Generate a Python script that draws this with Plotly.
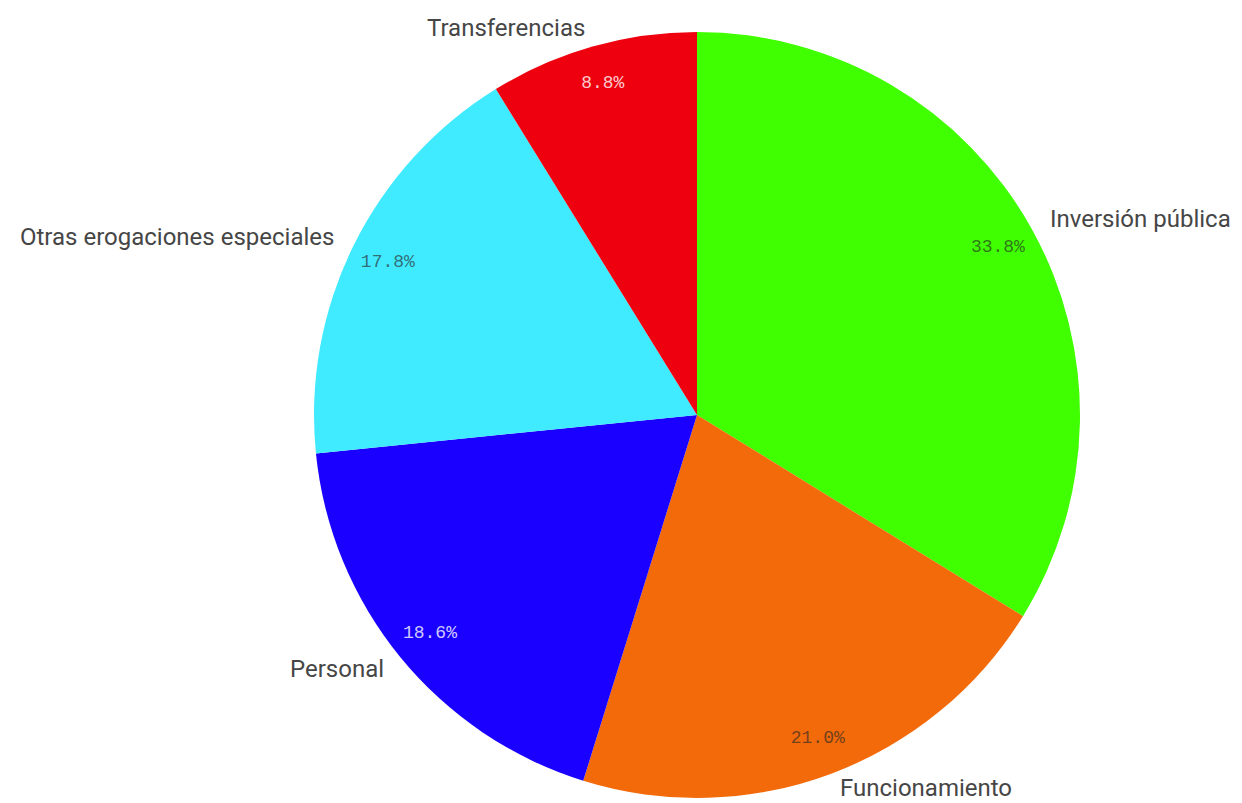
import math
import plotly.graph_objects as go

categories = ["Inversión pública", "Funcionamiento", "Personal",
              "Otras erogaciones especiales", "Transferencias"]
values = [33.8, 21.0, 18.6, 17.8, 8.8]
colors = ["#3FFF00", "#F26A0A", "#1A00FF", "#40EAFF", "#EE000E"]
pct_colors = ["rgba(40,40,40,0.65)", "rgba(40,40,40,0.65)", "rgba(255,255,255,0.8)",
              "rgba(40,40,40,0.65)", "rgba(255,255,255,0.8)"]

W, H = 1242, 803
cx, cy, R = 697, 415, 383
dom_x = [(cx - R) / W, (cx + R) / W]
dom_y = [(H - cy - R) / H, (H - cy + R) / H]

fig = go.Figure()
fig.add_trace(go.Pie(
    labels=categories, values=values, sort=False, direction="clockwise", rotation=0,
    marker=dict(colors=colors, line=dict(width=0)),
    textinfo="none",
    domain=dict(x=dom_x, y=dom_y), showlegend=False, hoverinfo="label+percent",
))
fig.add_trace(go.Pie(
    labels=categories, values=values, sort=False, direction="clockwise", rotation=0,
    hole=0.8,
    marker=dict(colors=["rgba(0,0,0,0)"] * len(values), line=dict(width=0)),
    texttemplate="%{percent:.1%}", textposition="inside", insidetextorientation="horizontal",
    insidetextfont=dict(family="Liberation Mono", size=18, color=pct_colors),
    domain=dict(x=dom_x, y=dom_y), showlegend=False, hoverinfo="skip",
))

# outside category labels placed along each slice's mid-angle
total = sum(values)
cum = 0.0
annotations = []
label_size = 24
half_box = 15  # approx half height of a label box in px
for lab, v in zip(categories, values):
    mid = (cum + v / 2) / total * 2 * math.pi
    cum += v
    r_lab = 1.05 * R
    px = cx + r_lab * math.sin(mid)
    py = cy - r_lab * math.cos(mid)
    py = min(max(py, half_box), H - half_box)  # keep label inside the canvas
    annotations.append(dict(
        x=px / W, y=1 - py / H, xref="paper", yref="paper", text=lab,
        showarrow=False, xanchor=("left" if math.sin(mid) > 0 else "right"),
        yanchor="middle",
        font=dict(family="Roboto", size=label_size, color="#464646"),
    ))

fig.update_layout(
    width=W, height=H, margin=dict(l=0, r=0, t=0, b=0),
    paper_bgcolor="white", plot_bgcolor="white",
    annotations=annotations,
)
fig.write_html("out.html", config={"displayModeBar": False},
               post_script="document.body.style.margin='0';document.body.style.overflow='hidden';")
